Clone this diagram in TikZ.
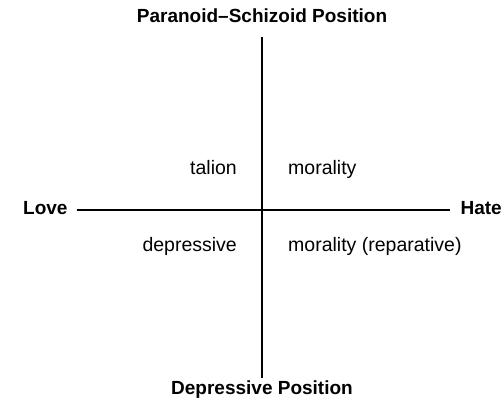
\documentclass[tikz,border=0pt]{standalone}
\usepackage{fontspec}
\setmainfont{Liberation Sans}
\usetikzlibrary{positioning}
\begin{document}
\begin{tikzpicture}[x=1pt, y=-1pt, font=\fontsize{19.5}{22}\selectfont,
  posn/.style={font=\fontsize{19}{22}\selectfont\bfseries, inner sep=0pt, anchor=base},
  pole/.style={posn},
  qlab/.style={inner sep=0pt},
  axis/.style={line width=1.1pt}]
  \useasboundingbox (0,0) rectangle (504,403);
  % ---- positions and poles ----
  \node[posn] (ps) at (262,23) {Paranoid–Schizoid Position};
  \node[posn] (dp) at (262,395) {Depressive Position};
  \node[pole, anchor=base west] (love) at (23,215) {Love};
  \node[pole, anchor=base east] (hate) at (502,215) {Hate};
  \coordinate (c) at (262,210);
  % ---- axes ----
  \draw[axis, shorten <=14pt, shorten >=3pt] (ps.south) -- (dp.north);
  \draw[axis, shorten <=9pt, shorten >=10pt] (love.east |- c) -- (hate.west |- c);
  % ---- quadrants ----
  \node[qlab, anchor=base east] (tal) at (237,175) {talion};
  \node[qlab, anchor=base west] (mor) at (288,175) {morality};
  \node[qlab, anchor=base east] (dep) at (237,252) {depressive};
  \node[qlab, anchor=base west] (rep) at (288,252) {morality (reparative)};
\end{tikzpicture}
\end{document}
